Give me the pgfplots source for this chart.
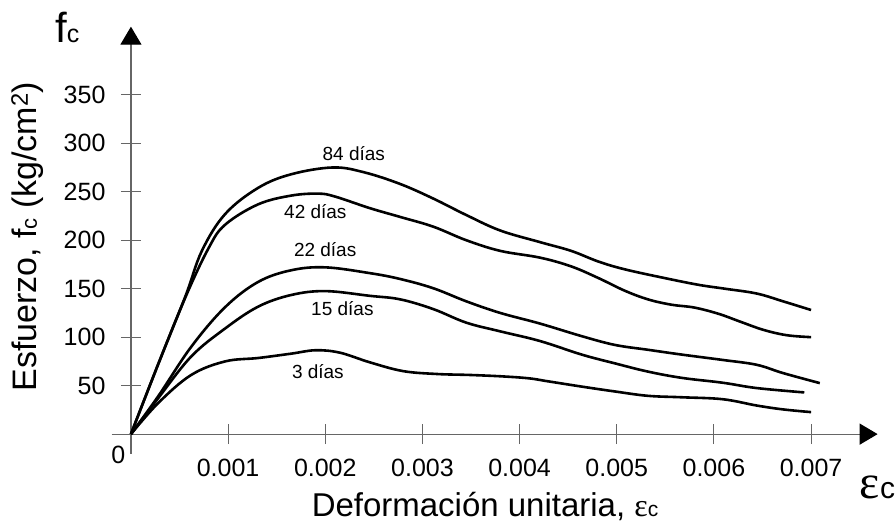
\documentclass[border=0pt]{standalone}
\usepackage{pgfplots}
\pgfplotsset{compat=1.18}
\usetikzlibrary{arrows.meta}
\usepackage{fontspec}
\setmainfont{Liberation Sans}
\newfontfamily\serifont{Liberation Serif}
\newcommand\fs[1]{\fontsize{#1}{#1}\selectfont}
\begin{document}
\begin{tikzpicture}
\begin{axis}[
 scale only axis, width=766.3pt, height=427pt,
 xmin=-0.000199, xmax=0.007685, ymin=-20, ymax=420.2,
 axis lines=middle,
 axis line style={draw=gray!80!black, line width=1.2pt},
 x axis line style={-{Triangle[length=18pt,width=21pt,color=black]}},
 y axis line style={-{Triangle[length=18pt,width=21pt,color=black]}},
 xtick={0.001,0.002,0.003,0.004,0.005,0.006,0.007},
 xticklabels={0.001,0.002,0.003,0.004,0.005,0.006,0.007},
 ytick={50,100,150,200,250,300,350},
 scaled x ticks=false,
 tick align=center, major tick length=20pt,
 tick style={draw=gray!80!black, line width=1pt},
 every tick label/.append style={font=\fs{25}},
 xticklabel style={yshift=-11pt},
 yticklabel style={xshift=-12pt},
 /pgf/number format/assume math mode=true,
 clip=false,
]
\path (axis cs:-0.0013477,-92.47) rectangle (axis cs:0.0078601,447.7);
% 84 dias
\addplot[black, line width=2.6pt, smooth, tension=0.6] coordinates {
(0,0) (0.00028,72) (0.00056,142) (0.00073,189) (0.00097,227) (0.00131,254) (0.00165,268) (0.00208,275) (0.00240,270) (0.00277,258) (0.00311,243) (0.00345,226) (0.0038,210) (0.00421,198) (0.00453,189) (0.00481,178) (0.00508,170) (0.00549,161) (0.00584,154) (0.00611,150) (0.00644,145) (0.00671,137) (0.0070,128)};
% 42 dias
\addplot[black, line width=2.6pt, smooth, tension=0.6] coordinates {
(0,0) (0.00028,72) (0.00056,141) (0.0008,192) (0.00097,216) (0.00131,237) (0.00165,246) (0.00193,248) (0.0021,245) (0.00246,233) (0.00277,224) (0.00311,214) (0.00345,200) (0.0038,189) (0.00421,182) (0.00453,173) (0.00481,161) (0.00508,148) (0.00532,139) (0.00556,133.5) (0.0058,130.5) (0.00605,124) (0.00627,116) (0.00651,107.5) (0.00675,102) (0.0070,100)};
% 22 dias
\addplot[black, line width=2.6pt, smooth, tension=0.6] coordinates {
(0,0) (0.00028,39) (0.00062,90) (0.00097,131) (0.00131,157) (0.00165,169) (0.002,172) (0.00246,166) (0.00277,160) (0.00311,150.5) (0.00345,137) (0.0038,125) (0.00421,114) (0.00464,101) (0.00498,92) (0.00532,87) (0.00567,82) (0.00609,76.5) (0.00644,71.5) (0.00671,63) (0.00709,52.6)};
% 15 dias
\addplot[black, line width=2.6pt, smooth, tension=0.6] coordinates {
(0,0) (0.00028,37) (0.00062,80) (0.00097,109) (0.00131,131.5) (0.00165,143.5) (0.002,147.5) (0.00246,142.6) (0.00277,139) (0.00311,129) (0.00345,115) (0.0038,106) (0.00421,96) (0.00464,82) (0.00498,73) (0.00532,64.5) (0.00567,58) (0.00609,53) (0.00644,47.5) (0.00693,43)};
% 3 dias
\addplot[black, line width=2.6pt, smooth, tension=0.6] coordinates {
(0,0) (0.00028,32) (0.00062,61) (0.00097,75) (0.00131,78.5) (0.00165,83) (0.0019,86.5) (0.00215,84) (0.00246,74) (0.0028,65) (0.00315,62) (0.00349,61) (0.00383,59.5) (0.0041,57.5) (0.00429,54.5) (0.00464,49) (0.00498,44) (0.00532,39.5) (0.00567,38) (0.00609,36) (0.00644,29.5) (0.00671,25.5) (0.0070,22.7)};
% labels
\node[inner sep=0, font=\fs{19}] at (axis cs:0.002294,289.5) {84 días};
\node[inner sep=0, font=\fs{19}] at (axis cs:0.001898,229.4) {42 días};
\node[inner sep=0, font=\fs{19}] at (axis cs:0.001999,189.9) {22 días};
\node[inner sep=0, font=\fs{19}] at (axis cs:0.002176,129.1) {15 días};
\node[inner sep=0, font=\fs{19}] at (axis cs:0.001924,64.9) {3 días};
\node[inner sep=0, font=\fs{25}] at (axis cs:-0.000131,-21.5) {0};
\node[inner sep=0, anchor=base west] at (axis cs:-0.000782,403.4) {\fs{42}f\fs{25}c};
\node[inner sep=0, anchor=base west] at (axis cs:0.0075,-66) {{\serifont\fs{48}ε}\fs{30}c};
\node[inner sep=0, anchor=base west] at (axis cs:0.001859,-84.9) {\fs{33}Deformación unitaria, {\serifont\fs{32}ε}\fs{21}c};
\node[inner sep=0, anchor=base west, rotate=90] at (axis cs:-0.000967,43.6) {\fs{34}Esfuerzo, f{\fs{22}c} (kg/cm\textsuperscript{2})};
\end{axis}
\end{tikzpicture}
\end{document}
